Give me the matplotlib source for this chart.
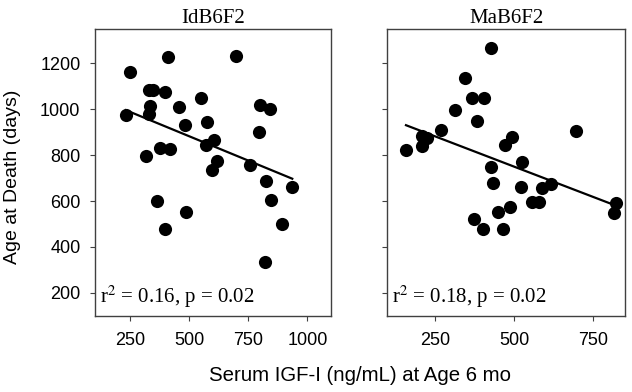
import numpy as np
import matplotlib
matplotlib.use('Agg')
import matplotlib.pyplot as plt

plt.rcParams['font.family'] = ['Liberation Sans', 'DejaVu Sans']
plt.rcParams['mathtext.fontset'] = 'stix'

# IdB6F2 panel
idb_igf = [250, 409, 696, 230, 329, 346, 395, 335, 327, 455, 551, 481, 573, 798, 843, 795,
           318, 377, 416, 604, 569, 617, 597, 758, 826, 936, 363, 397, 487, 844, 892, 822]
idb_age = [1161, 1226, 1230, 976, 1082, 1082, 1074, 1012, 978, 1007, 1050, 930, 944, 1017, 999, 901,
           795, 829, 826, 865, 843, 774, 735, 756, 688, 662, 600, 480, 553, 603, 502, 333]
idb_stats = 'r$^2$ = 0.16, p = 0.02'

# MaB6F2 panel
mab_igf = [426, 344, 368, 405, 313, 384, 271, 159, 208, 226, 208, 495, 471, 697, 426, 526, 433,
           521, 588, 618, 556, 579, 373, 402, 450, 486, 465, 822, 815]
mab_age = [1267, 1137, 1046, 1048, 995, 948, 908, 824, 882, 872, 839, 879, 843, 905, 749, 771, 680,
           662, 658, 673, 594, 594, 522, 478, 554, 573, 478, 590, 547]
mab_stats = 'r$^2$ = 0.18, p = 0.02'

panels = [
    ('IdB6F2', idb_igf, idb_age, idb_stats, (100, 1100), [250, 500, 750, 1000], True),
    ('MaB6F2', mab_igf, mab_age, mab_stats, (100, 850), [250, 500, 750], False),
]

fig = plt.figure(figsize=(6.32, 3.92), dpi=100)
ax_left = fig.add_axes([0.1503, 0.194, 0.3734, 0.733])
ax_right = fig.add_axes([0.6128, 0.194, 0.376, 0.733])

for ax, (title, xs, ys, stats, xlim, xticks, show_y) in zip([ax_left, ax_right], panels):
    xs = np.array(xs)
    ys = np.array(ys)
    ax.scatter(xs, ys, s=90, color='black', zorder=3, linewidths=0)

    # least squares line over the data range
    slope, intercept = np.polyfit(xs, ys, 1)
    xfit = np.array([xs.min(), xs.max()])
    ax.plot(xfit, slope * xfit + intercept, color='black', lw=1.6, zorder=2)

    ax.set_xlim(*xlim)
    ax.set_ylim(100, 1350)
    ax.set_xticks(xticks)
    ax.set_yticks([200, 400, 600, 800, 1000, 1200])
    if not show_y:
        ax.set_yticklabels([])
    ax.tick_params(direction='out', length=3.5, width=0.8, labelsize=13, color='#404040')
    ax.tick_params(axis='x', pad=8)
    ax.tick_params(axis='y', pad=7)
    for side in ax.spines.values():
        side.set_color('#404040')
        side.set_linewidth(1.0)

    ax.set_title(title, family='Liberation Serif', fontsize=15, pad=4)
    ax.text(0.02, 0.02, stats, transform=ax.transAxes, family='Liberation Serif',
            fontsize=15, ha='left', va='bottom')

fig.text(0.02, 0.55, 'Age at Death (days)', rotation=90, ha='center', va='center', fontsize=14)
fig.text(0.569, 0.043, 'Serum IGF-I (ng/mL) at Age 6 mo', ha='center', va='center', fontsize=14.7)

plt.savefig('out.png', dpi=100)
